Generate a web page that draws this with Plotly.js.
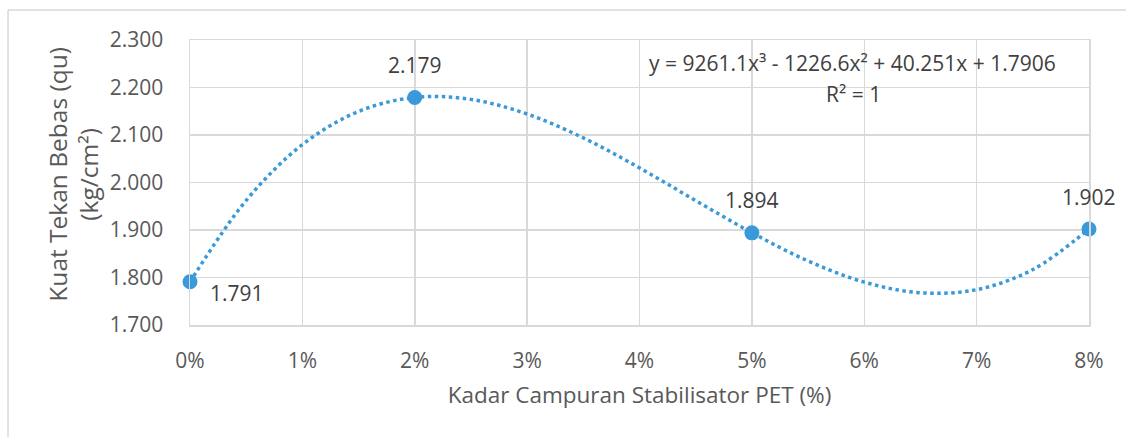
<!DOCTYPE html>
<html>
<head>
<meta charset="utf-8">
<script src="https://cdn.plot.ly/plotly-3.0.1.min.js"></script>
<style>html,body{margin:0;padding:0;background:#fff;}#chart{width:1126px;height:437px;}</style>
</head>
<body>
<div id="chart"></div>
<script>
// Measured data points
const xPct = [0, 0.02, 0.05, 0.08];
const qu = [1.791, 2.179, 1.894, 1.902];
const quLabels = ["1.791", "2.179", "1.894", "1.902"];

// Polynomial trendline (samples every 0.5%)
const trendX = [0, 0.005, 0.01, 0.015, 0.02, 0.025, 0.03, 0.035, 0.04, 0.045, 0.05, 0.055, 0.06, 0.065, 0.07, 0.075, 0.08];
const trendY = [1.7906, 1.9623, 2.0797, 2.1496, 2.1791, 2.1750, 2.1442, 2.0939, 2.0308, 1.9619, 1.8943, 1.8348, 1.7903, 1.7679, 1.7744, 1.8168, 1.9021];

const xTickVals = [0, 0.01, 0.02, 0.03, 0.04, 0.05, 0.06, 0.07, 0.08];
const xTickText = ["0%", "1%", "2%", "3%", "4%", "5%", "6%", "7%", "8%"];
const yTickVals = [1.7, 1.8, 1.9, 2.0, 2.1, 2.2, 2.3];
const yTickText = ["1.700", "1.800", "1.900", "2.000", "2.100", "2.200", "2.300"];

const equationText = "y = 9261.1x³ - 1226.6x² + 40.251x + 1.7906";
const r2Text = "R² = 1";
const xTitle = "Kadar Campuran Stabilisator PET (%)";
const yTitle = "Kuat Tekan Bebas (qu)<br>(kg/cm²)";

const blue = "#3a9ad9";
const grey = "#595959";
const FONT = "Open Sans, sans-serif";

const traces = [
  {x: trendX, y: trendY, mode: "lines", type: "scatter", line: {color: blue, width: 3.5, dash: "dot", shape: "spline"}, hoverinfo: "skip", showlegend: false},
  {x: xPct, y: qu, mode: "markers", type: "scatter", marker: {color: blue, size: 15}, showlegend: false, cliponaxis: false}
];

const labelShift = [
  {xanchor: "left", xshift: 18, yshift: -11},
  {xanchor: "center", xshift: 0, yshift: 32},
  {xanchor: "center", xshift: 0, yshift: 33},
  {xanchor: "center", xshift: 0, yshift: 32}
];
const annotations = xPct.map((x, i) => Object.assign({
  x: x, y: qu[i], xref: "x", yref: "y", text: quLabels[i], showarrow: false,
  yanchor: "middle", font: {family: FONT, size: 21, color: "#404040"}
}, labelShift[i]));
annotations.push({x: 0.7364, y: 0.919, xref: "paper", yref: "paper", text: equationText, showarrow: false, xanchor: "center", yanchor: "middle", font: {family: FONT, size: 21, color: "#404040"}});
annotations.push({x: 0.7375, y: 0.81, xref: "paper", yref: "paper", text: r2Text, showarrow: false, xanchor: "center", yanchor: "middle", font: {family: FONT, size: 21, color: "#404040"}});
// y-axis title placed as a rotated annotation
annotations.push({x: -0.13, y: 0.528, xref: "paper", yref: "paper", text: yTitle, textangle: -90, showarrow: false, xanchor: "center", yanchor: "middle", font: {family: FONT, size: 24.5, color: grey}});

const layout = {
  width: 1126, height: 437,
  margin: {l: 190, r: 37, t: 40, b: 112},
  paper_bgcolor: "#fff", plot_bgcolor: "#fff",
  showlegend: false,
  xaxis: {
    range: [0, 0.08], tickvals: xTickVals, ticktext: xTickText,
    showgrid: true, gridcolor: "#d9d9d9", gridwidth: 1.5, zeroline: false,
    showline: true, linecolor: "#d9d9d9", linewidth: 1.5, mirror: true,
    ticks: "", ticklabelstandoff: 16,
    tickfont: {family: FONT, size: 21, color: grey},
    title: {text: xTitle, font: {family: FONT, size: 22.5, color: grey}, standoff: 14},
    automargin: false, fixedrange: true
  },
  yaxis: {
    range: [1.7, 2.3], tickvals: yTickVals, ticktext: yTickText,
    showgrid: true, gridcolor: "#d9d9d9", gridwidth: 1.5, zeroline: false,
    showline: true, linecolor: "#d9d9d9", linewidth: 1.5, mirror: true,
    ticks: "", ticklabelstandoff: 21,
    tickfont: {family: FONT, size: 21, color: grey},
    automargin: false, fixedrange: true
  },
  annotations: annotations,
  shapes: [
    {type: "line", xref: "paper", yref: "paper", x0: -0.2024, x1: 1.05, y0: 1.105, y1: 1.105, line: {color: "#d9d9d9", width: 1.5}},
    {type: "line", xref: "paper", yref: "paper", x0: -0.2024, x1: -0.2024, y0: 1.105, y1: -0.45, line: {color: "#d9d9d9", width: 1.5}}
  ]
};

Plotly.newPlot("chart", traces, layout, {staticPlot: true, displayModeBar: false});
</script>
</body>
</html>
